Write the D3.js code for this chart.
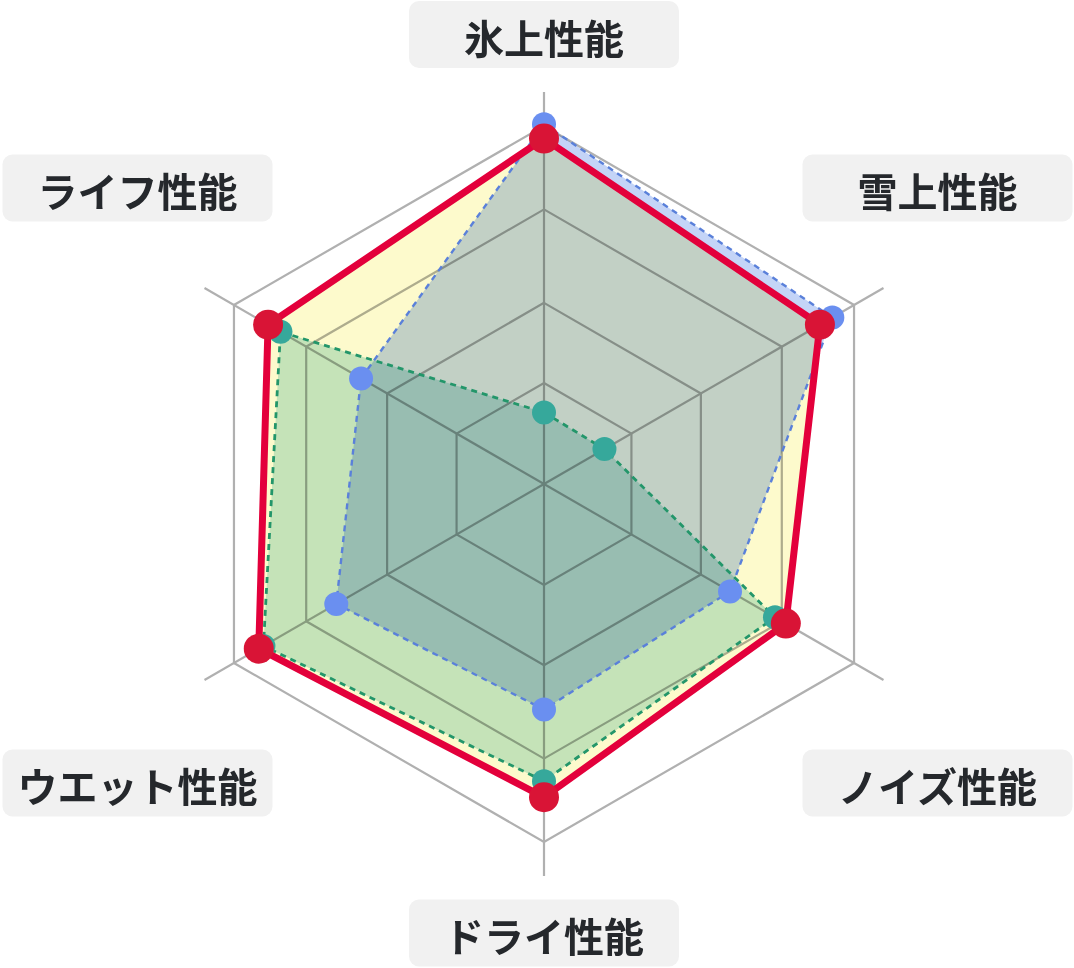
<!DOCTYPE html>
<html lang="ja">
  <head>
    <meta charset="UTF-8" />
    <title>タイヤ性能レーダー</title>
    <style>
      body {
        margin: 0;
        background: #fff;
        overflow: hidden;
      }
      .grid {
        fill: none;
        stroke: #b0b0b0;
        stroke-width: 2.2px;
      }
      .area {
        mix-blend-mode: multiply;
      }
      .label rect {
        fill: #f1f1f1;
      }
      .label text {
        font-family: "Noto Sans CJK JP", sans-serif;
        font-weight: 700;
        font-size: 40px;
        fill: #25282c;
      }
    </style>
  </head>
  <body>
    <svg width="1074" height="968"></svg>

    <script src="https://d3js.org/d3.v7.min.js"></script>
    <script>
      // axes, clockwise from the top
      const axes = ["氷上性能", "雪上性能", "ノイズ性能", "ドライ性能", "ウエット性能", "ライフ性能"];

      // values on a 0-100 scale
      const blueValues = [100.5, 93, 60, 63, 67, 59];
      const greenValues = [20, 19.5, 74.5, 83, 90.5, 85];
      const redValues = [96.5, 89, 78, 87.5, 92, 89];

      // grid rings are not evenly spaced in the original
      const gridLevels = [28.2, 50.6, 76.7, 100];
      const axisEnd = 109.5;

      const series = [
        { values: blueValues, fill: "#c4d4f7", line: "#5a80da", dot: "#6a8ff0", width: 2.4, dash: "6 5", r: 12 },
        { values: greenValues, fill: "#c7e8e6", line: "#23966a", dot: "#36a89b", width: 2.8, dash: "6 5", r: 12 },
        { values: redValues, fill: "#fdfacc", line: "#e3003b", dot: "#d91436", width: 7, dash: null, r: 15 },
      ];

      const cx = 544,
        cy = 484,
        R = 358;

      const svg = d3.select("svg");
      const g = svg.append("g").attr("transform", `translate(${cx},${cy})`);

      const step = (2 * Math.PI) / axes.length;
      const theta = (name) => axes.indexOf(name) * step;

      const r = d3.scaleLinear().domain([0, 100]).range([0, R]);

      const pt = (name, v) => [r(v) * Math.sin(theta(name)), -r(v) * Math.cos(theta(name))];

      // rings
      g.selectAll("polygon.grid")
        .data(gridLevels)
        .join("polygon")
        .attr("class", "grid")
        .attr("points", (lv) => axes.map((a) => pt(a, lv).join(",")).join(" "));

      // spokes
      g.selectAll("line.grid")
        .data(axes)
        .join("line")
        .attr("class", "grid")
        .attr("x1", 0)
        .attr("y1", 0)
        .attr("x2", (a) => pt(a, axisEnd)[0])
        .attr("y2", (a) => pt(a, axisEnd)[1]);

      const line = d3
        .line()
        .x((d) => d[0])
        .y((d) => d[1])
        .curve(d3.curveLinearClosed);

      const shapes = series.map((s) => axes.map((a, i) => pt(a, s.values[i])));

      // fills first, multiplied so overlaps mix like the original
      g.selectAll("path.area")
        .data(series)
        .join("path")
        .attr("class", "area")
        .attr("d", (s, i) => line(shapes[i]))
        .attr("fill", (s) => s.fill);

      series.forEach((s, i) => {
        g.append("path")
          .attr("d", line(shapes[i]))
          .attr("fill", "none")
          .attr("stroke", s.line)
          .attr("stroke-width", s.width)
          .attr("stroke-dasharray", s.dash)
          .attr("stroke-linejoin", "round");

        g.selectAll(null)
          .data(shapes[i])
          .join("circle")
          .attr("cx", (d) => d[0])
          .attr("cy", (d) => d[1])
          .attr("r", s.r)
          .attr("fill", s.dot);
      });

      // label boxes
      const boxW = 270,
        boxH = 67;
      const labelPos = [
        [0, -449.5],
        [393.5, -296],
        [393.5, 299],
        [0, 449],
        [-406.5, 299],
        [-406.5, -296],
      ];

      const label = svg
        .append("g")
        .selectAll("g.label")
        .data(axes)
        .join("g")
        .attr("class", "label")
        .attr("transform", (a, i) => `translate(${cx + labelPos[i][0]},${cy + labelPos[i][1]})`);

      label
        .append("rect")
        .attr("x", -boxW / 2)
        .attr("y", -boxH / 2)
        .attr("width", boxW)
        .attr("height", boxH)
        .attr("rx", 10);

      label
        .append("text")
        .attr("text-anchor", "middle")
        .attr("dominant-baseline", "central")
        .attr("y", 2)
        .text((a) => a);
    </script>
  </body>
</html>
